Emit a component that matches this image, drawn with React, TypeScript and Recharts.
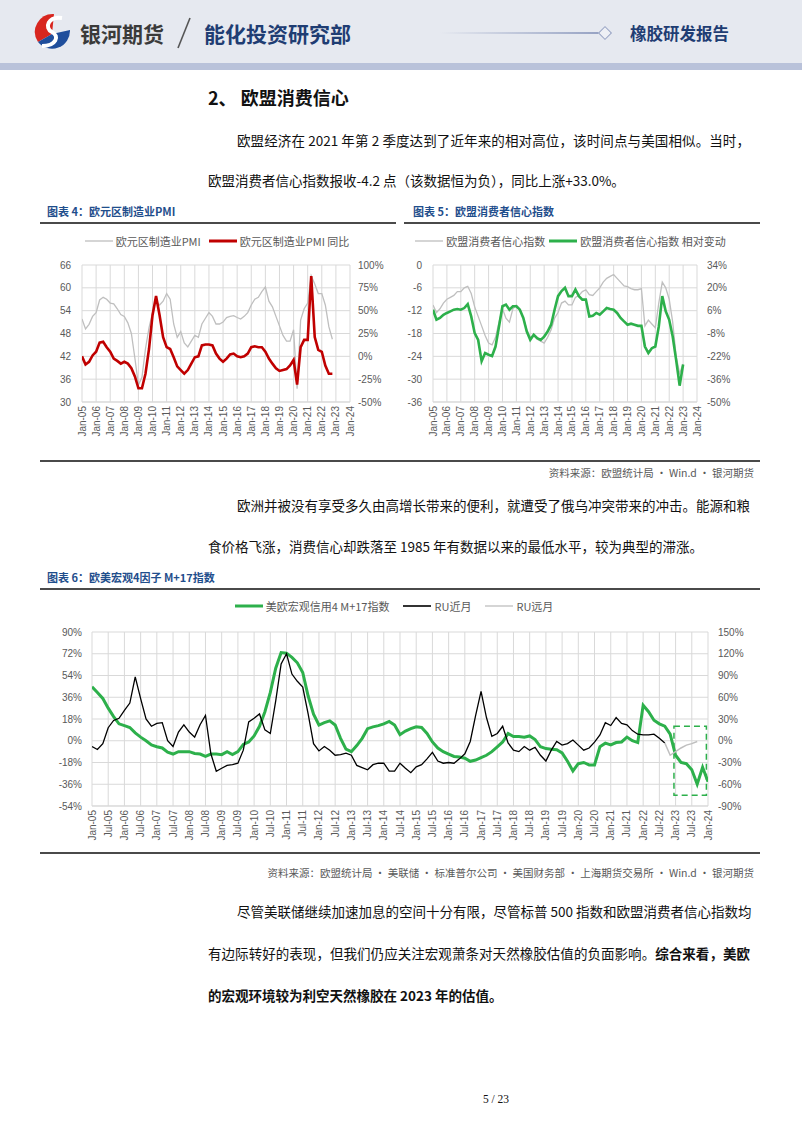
import React from "react";
import { LineChart, Line, XAxis, YAxis, CartesianGrid, Legend, ReferenceArea } from "recharts";

const CJK = '"Noto Sans CJK SC", "Noto Sans", sans-serif';
const TICK_FONT = '"Liberation Sans", Arial, sans-serif';
const NAVY = "#1f3d73";
const TITLE_BLUE = "#1f4e8c";
const GREEN = "#2db04b";

// ---- chart 4: euro area manufacturing PMI (quarterly, from Jan-05)
const yearLabels = ["Jan-05", "Jan-06", "Jan-07", "Jan-08", "Jan-09", "Jan-10", "Jan-11", "Jan-12", "Jan-13", "Jan-14", "Jan-15", "Jan-16", "Jan-17", "Jan-18", "Jan-19", "Jan-20", "Jan-21", "Jan-22", "Jan-23", "Jan-24"];
const pmiLeftTicks = [30, 36, 42, 48, 54, 60, 66];
const pmiRightTicks = [-50, -25, 0, 25, 50, 75, 100];
const pmiIndex = [
  51.8, 49.2, 50.4, 52.5, 53.5, 56.8, 57.5, 57.0, 56.0, 55.8, 54.5, 53.0,
  52.5, 50.8, 48.0, 41.5, 34.5, 36.5, 44.0, 49.5, 53.5, 56.5, 55.5, 56.5,
  58.5, 57.0, 50.5, 47.0, 48.5, 45.5, 44.5, 46.0, 47.5, 47.0, 50.5, 52.0,
  53.5, 52.5, 50.5, 50.5, 51.0, 52.2, 52.5, 52.7, 52.2, 51.8, 52.5, 53.5,
  55.5, 57.0, 57.5, 59.0, 60.2, 56.5, 55.0, 52.5, 50.0, 47.5, 46.0, 46.0,
  49.0, 33.5, 51.5, 54.5, 56.0, 63.2, 61.0, 58.5, 58.5, 55.5, 49.8, 46.5,
];
const pmiYoY = [
  0, -9, -6, 1, 5, 15, 16, 10, 5, -2.5, -5, -8,
  -6, -8, -13, -22, -35, -35, -19, 8, 45, 66, 45, 21,
  10, 8, -1, -11, -15, -19, -15, -8, -1, 0, 12, 13,
  13, 12, 3, -2.5, -6, -2.5, 2, 3, 0, -1, 0, 3,
  10, 11, 10, 10, 5, -2.5, -8, -13, -16, -15, -14, -10,
  -4, -31, 10, 18, 18, 88, 21, 7, 5, -10, -19, -19,
];

// ---- chart 5: EU consumer confidence (quarterly, from Jan-05)
const ccLeftTicks = [-36, -30, -24, -18, -12, -6, 0];
const ccRightTicks = [-50, -36, -22, -8, 6, 20, 34];
const ccIndex = [
  -10.5, -12.5, -11.5, -10, -9, -8.5, -8, -7, -7, -6, -5.6, -7.5,
  -11, -13.5, -16, -18.5, -20.5, -21, -19, -15, -11.5, -14, -15, -11.5,
  -10.5, -11.5, -14, -17, -19, -18.5, -19.5, -20, -20.5, -19, -17, -14,
  -12.5, -10, -9.5, -10.5, -10.5, -8.5, -8, -7, -6.5, -7.8, -8, -7,
  -6, -4.5, -3.5, -3, -2.5, -3.5, -4.5, -5.5, -5.7, -6.2, -6.5, -6.5,
  -6.2, -16, -14.5, -15.5, -16.5, -10, -4.5, -6, -9, -15, -24, -28.5,
  -26,
];
const ccChange = [
  6.6, 0.5, 1.5, 3.5, 4.6, 5.6, 6.6, 7, 6.6, 7.6, 10, 2.5,
  -7.8, -12, -25, -20, -21, -21.8, -16, -3.7, 8.7, 9.7, 6.6, 8.7,
  8.7, 6.6, 1.5, -6.8, -11.9, -8.8, -10.9, -11.9, -9.9, -6.8, -2.6, 6.6,
  14.9, 18, 20, 14.9, 14.9, 19, 14.9, 12.8, 12.8, 2.5, 2.9, 4.6,
  3.5, 5.6, 7.6, 7, 6.6, 4.6, 1.5, -0.6, -2.6, -2, -2.6, -3.3,
  -3.3, -16, -20, -17, -16, -3.7, 14.9, 5.6, 0.4, -9.9, -24.3, -40,
  -27,
];

// ---- chart 6: US/EU macro 4-factor M+17 index vs RU (bimonthly, from Jan-05)
const halfYearLabels = [
  "Jan-05", "Jul-05", "Jan-06", "Jul-06", "Jan-07", "Jul-07", "Jan-08", "Jul-08", "Jan-09", "Jul-09",
  "Jan-10", "Jul-10", "Jan-11", "Jul-11", "Jan-12", "Jul-12", "Jan-13", "Jul-13", "Jan-14", "Jul-14",
  "Jan-15", "Jul-15", "Jan-16", "Jul-16", "Jan-17", "Jul-17", "Jan-18", "Jul-18", "Jan-19", "Jul-19",
  "Jan-20", "Jul-20", "Jan-21", "Jul-21", "Jan-22", "Jul-22", "Jan-23", "Jul-23", "Jan-24",
];
const macroLeftTicks = [-54, -36, -18, 0, 18, 36, 54, 72, 90];
const macroRightTicks = [-90, -60, -30, 0, 30, 60, 90, 120, 150];
const macroIndex = [
  44.6, 40, 35, 27, 20, 14, 12.5, 11, 6.5, 3, 0, -3.5,
  -5, -6, -9.5, -11, -9, -9, -9, -10.5, -11, -13, -11, -11,
  -11.5, -9, -11.5, -9, -3, -1, 4, 12, 24, 40, 60, 73,
  72.5, 69, 64.5, 56.5, 37, 22, 13, 15, 16.5, 13, 2, -7,
  -9, -4, 2, 10, 11.5, 12.5, 14, 16, 13, 5, 8, 10,
  11.6, 11, 6, -1, -6, -9, -11, -13, -13.5, -14.5, -17, -16,
  -14, -12, -9, -5, -1, 6, 3.5, 3.5, 3, 4, 1, -5,
  -6.5, -7, -7.5, -10, -17, -25, -19, -18, -20, -20, -5, -2,
  -3.5, -1.5, -1, 3, 0, -1.5, 29.4, 24, 17, 14, 12, 5.5,
  -12, -18, -19, -24, -36, -22, -34,
];
const ruNear = [
  -8, -12, -4, 18, 28, 31, 42, 52, 88, 58, 30, 20,
  24, 25, 0, -8, 12, 22, 12, 5, 22, 35, -18, -42,
  -38, -34, -33, -31, -13, 26, 31, 37, 15, 10, 55, 106,
  120, 92, 82, 74, 37, -4, -14, -8, -13, -20, -19, -17,
  -20, -34, -37, -40, -33, -31, -31, -42, -42, -31, -38, -44,
  -36, -33, -25, -16, -28, -31, -30, -31, -25, -18, -1, 35,
  68, 32, 6, 10, 20, -3, -13, -15, -8, -13, -9, -20,
  -28, -13, -1, -6, -4, 1, -6, -13, -10, -2, 8, 25,
  21, 32, 24, 22, 14, 9, 8, 8, 9, 3.5, -3,
];
const ruFarStart = 2022 + 4 / 6;
const ruFar = [-3, -20, -15, -10, -6, -4, -1];
const highlightBox = { x1: 2022.95, x2: 2023.95, y1: -75, y2: 20 };

const toPoints = (start: number, step: number, values: number[]) =>
  values.map((v, i) => ({ x: start + i * step, v }));

const pct = (v: number) => `${v}%`;
const tickStyle = { fontSize: 10, fill: "#595959", fontFamily: TICK_FONT };

function VTick(props: any) {
  const { x, y, payload, labels, start, step } = props;
  const idx = Math.round((payload.value - start) / step);
  return (
    <text x={x} y={y} transform={`rotate(-90 ${x} ${y})`} textAnchor="end" dy="0.35em"
      fontSize={10} fill="#595959" fontFamily={TICK_FONT}>
      {labels[idx]}
    </text>
  );
}

type LegendItem = { label: string; color: string; width: number };

function LegendRow({ items, height, pad, gap }: { items: LegendItem[]; height: number; pad: number; gap: number }) {
  return (
    <div style={{ height, boxSizing: "border-box", paddingTop: pad, display: "flex", justifyContent: "center" }}>
      {items.map((it) => (
        <div key={it.label} style={{ display: "flex", alignItems: "center", height: 16, marginRight: gap }}>
          <svg width={28} height={10}><line x1={0} y1={5} x2={28} y2={5} stroke={it.color} strokeWidth={it.width} /></svg>
          <span style={{ marginLeft: 3, fontSize: 11, color: "#595959", fontFamily: CJK, whiteSpace: "pre" }}>{it.label}</span>
        </div>
      ))}
    </div>
  );
}

function PmiChart() {
  const ticks = yearLabels.map((_, i) => 2005 + i);
  const items = [
    { label: "欧元区制造业PMI", color: "#bfbfbf", width: 1.3 },
    { label: "欧元区制造业PMI 同比", color: "#c00000", width: 3 },
  ];
  return (
    <LineChart width={356} height={230} margin={{ top: 0, right: 6, bottom: 16, left: 12 }}>
      <CartesianGrid stroke="#d9d9d9" yAxisId="left" />
      <XAxis type="number" dataKey="x" domain={[2005, 2024]} ticks={ticks} interval={0} allowDataOverflow
        tick={<VTick labels={yearLabels} start={2005} step={1} />} tickLine={false} tickSize={0} tickMargin={4}
        axisLine={{ stroke: "#d9d9d9" }} height={40} />
      <YAxis yAxisId="left" domain={[30, 66]} ticks={pmiLeftTicks} interval={0} width={30}
        axisLine={false} tickLine={false} tickSize={0} tickMargin={11} tick={tickStyle} />
      <YAxis yAxisId="right" orientation="right" domain={[-50, 100]} ticks={pmiRightTicks} interval={0} width={40}
        tickFormatter={pct} axisLine={false} tickLine={false} tickSize={0} tickMargin={8} tick={tickStyle} />
      <Legend verticalAlign="top" content={() => <LegendRow items={items} height={37} pad={5} gap={8} />} />
      <Line yAxisId="left" data={toPoints(2005, 0.25, pmiIndex)} dataKey="v" stroke="#bfbfbf" strokeWidth={1.3} dot={false} isAnimationActive={false} />
      <Line yAxisId="right" data={toPoints(2005, 0.25, pmiYoY)} dataKey="v" stroke="#c00000" strokeWidth={2.6} dot={false} isAnimationActive={false} />
    </LineChart>
  );
}

function ConfidenceChart() {
  const ticks = yearLabels.map((_, i) => 2005 + i);
  const items = [
    { label: "欧盟消费者信心指数", color: "#bfbfbf", width: 1.3 },
    { label: "欧盟消费者信心指数 相对变动", color: GREEN, width: 3 },
  ];
  return (
    <LineChart width={360} height={230} margin={{ top: 0, right: 18, bottom: 16, left: 3 }}>
      <CartesianGrid stroke="#d9d9d9" yAxisId="left" />
      <XAxis type="number" dataKey="x" domain={[2005, 2024]} ticks={ticks} interval={0} allowDataOverflow
        tick={<VTick labels={yearLabels} start={2005} step={1} />} tickLine={false} tickSize={0} tickMargin={4}
        axisLine={{ stroke: "#d9d9d9" }} height={40} />
      <YAxis yAxisId="left" domain={[-36, 0]} ticks={ccLeftTicks} interval={0} width={30}
        axisLine={false} tickLine={false} tickSize={0} tickMargin={11} tick={tickStyle} />
      <YAxis yAxisId="right" orientation="right" domain={[-50, 34]} ticks={ccRightTicks} interval={0} width={45}
        tickFormatter={pct} axisLine={false} tickLine={false} tickSize={0} tickMargin={10} tick={tickStyle} />
      <Legend verticalAlign="top" content={() => <LegendRow items={items} height={37} pad={5} gap={4} />} />
      <Line yAxisId="left" data={toPoints(2005, 0.25, ccIndex)} dataKey="v" stroke="#bfbfbf" strokeWidth={1.3} dot={false} isAnimationActive={false} />
      <Line yAxisId="right" data={toPoints(2005, 0.25, ccChange)} dataKey="v" stroke={GREEN} strokeWidth={2.6} dot={false} isAnimationActive={false} />
    </LineChart>
  );
}

function MacroChart() {
  const ticks = halfYearLabels.map((_, i) => 2005 + i * 0.5);
  const items = [
    { label: "美欧宏观信用4 M+17指数", color: GREEN, width: 3 },
    { label: "RU近月", color: "#000000", width: 1.6 },
    { label: "RU远月", color: "#bfbfbf", width: 1.3 },
  ];
  return (
    <LineChart width={720} height={252} margin={{ top: 0, right: 10, bottom: 0, left: 12 }}>
      <CartesianGrid stroke="#d9d9d9" yAxisId="left" />
      <XAxis type="number" dataKey="x" domain={[2005, 2024]} ticks={ticks} interval={0} allowDataOverflow
        tick={<VTick labels={halfYearLabels} start={2005} step={0.5} />} tickLine={false} tickSize={0} tickMargin={4}
        axisLine={{ stroke: "#d9d9d9" }} height={38} />
      <YAxis yAxisId="left" domain={[-54, 90]} ticks={macroLeftTicks} interval={0} width={40}
        tickFormatter={pct} axisLine={false} tickLine={false} tickSize={0} tickMargin={10} tick={tickStyle} />
      <YAxis yAxisId="right" orientation="right" domain={[-90, 150]} ticks={macroRightTicks} interval={0} width={42}
        tickFormatter={pct} axisLine={false} tickLine={false} tickSize={0} tickMargin={10} tick={tickStyle} />
      <Legend verticalAlign="top" content={() => <LegendRow items={items} height={40} pad={6} gap={14} />} />
      <Line yAxisId="left" data={toPoints(2005, 1 / 6, macroIndex)} dataKey="v" stroke={GREEN} strokeWidth={3} dot={false} isAnimationActive={false} />
      <Line yAxisId="right" data={toPoints(2005, 1 / 6, ruNear)} dataKey="v" stroke="#000000" strokeWidth={1.3} dot={false} isAnimationActive={false} />
      <Line yAxisId="right" data={toPoints(ruFarStart, 1 / 6, ruFar)} dataKey="v" stroke="#bfbfbf" strokeWidth={1.5} dot={false} isAnimationActive={false} />
      <ReferenceArea yAxisId="right" {...highlightBox} fill="none" stroke={GREEN} strokeWidth={1.5}
        strokeDasharray="6 4" ifOverflow="visible" />
    </LineChart>
  );
}

function TextLine({ top, left, width, justify, bold, size = 13.5, children }: any) {
  return (
    <div style={{
      position: "absolute", top: top - 10, left, width, height: 20, lineHeight: "20px",
      fontSize: size, fontFamily: CJK, color: "#111", fontWeight: bold ? 700 : 400, whiteSpace: "nowrap",
      textAlign: justify ? "justify" : "left", textAlignLast: justify ? "justify" : "auto",
    }}>{children}</div>
  );
}

function ChartTitle({ top, left, children }: any) {
  return (
    <div style={{ position: "absolute", top: top - 8, left, height: 16, lineHeight: "16px", fontSize: 11,
      fontWeight: 700, color: TITLE_BLUE, fontFamily: CJK, whiteSpace: "nowrap" }}>{children}</div>
  );
}

function Rule({ top, left, width }: any) {
  return <div style={{ position: "absolute", top, left, width, height: 1.5, background: "#4a4a4a" }} />;
}

function Source({ top, children }: any) {
  return (
    <div style={{ position: "absolute", top: top - 8, right: 802 - 754, height: 16, lineHeight: "16px", fontSize: 10.5,
      color: "#595959", fontFamily: CJK, whiteSpace: "nowrap" }}>{children}</div>
  );
}

function Header() {
  return (
    <div style={{ position: "absolute", left: 0, top: 0, width: 802, height: 70 }}>
      <div style={{ position: "absolute", left: 0, top: 0, width: 802, height: 63, background: "#e6e9f0" }} />
      <div style={{ position: "absolute", left: 0, top: 63, width: 802, height: 7, background: "#b9c2da" }} />
      <svg style={{ position: "absolute", left: 32, top: 12 }} width={40} height={40} viewBox="0 0 40 40">
        <path d="M22 2 A18 18 0 0 0 6 30 L 20 22 Z" fill="#d8261f" />
        <path d="M6 30 A18 18 0 0 0 38 18 L 20 22 Z" fill="#1f4e9c" />
        <path d="M30 6 C 16 4, 12 16, 20 20 C 28 24, 24 34, 10 34" stroke="#fff" strokeWidth={4} fill="none" />
      </svg>
      <div style={{ position: "absolute", left: 80, top: 20, fontSize: 21, fontWeight: 700, color: "#3a3a3a", fontFamily: CJK, lineHeight: "26px" }}>银河期货</div>
      <svg style={{ position: "absolute", left: 174, top: 16 }} width={20} height={34}>
        <line x1={16} y1={2} x2={4} y2={32} stroke="#555" strokeWidth={1.6} />
      </svg>
      <div style={{ position: "absolute", left: 204, top: 20, fontSize: 21, fontWeight: 700, color: NAVY, fontFamily: CJK, lineHeight: "26px" }}>能化投资研究部</div>
      <div style={{ position: "absolute", left: 440, top: 32, width: 160, height: 1.5, background: "linear-gradient(to right, rgba(150,162,195,0), #96a2c3)" }} />
      <div style={{ position: "absolute", left: 600, top: 28, width: 8, height: 8, border: "1.2px solid #96a2c3", transform: "rotate(45deg)", background: "#eef0f5" }} />
      <div style={{ position: "absolute", left: 630, top: 22, fontSize: 16.5, fontWeight: 700, color: NAVY, fontFamily: CJK, lineHeight: "22px" }}>橡胶研发报告</div>
    </div>
  );
}

export default function App() {
  return (
    <div style={{ position: "absolute", left: 0, top: 0, width: 802, height: 1133, background: "#fff", overflow: "hidden" }}>
      <Header />
      <TextLine top={97} left={208} size={18} bold>2、 欧盟消费信心</TextLine>
      <TextLine top={140} left={237} width={513} justify>欧盟经济在 2021 年第 2 季度达到了近年来的相对高位，该时间点与美国相似。当时，</TextLine>
      <TextLine top={180} left={208}>欧盟消费者信心指数报收-4.2 点（该数据恒为负），同比上涨+33.0%。</TextLine>

      <ChartTitle top={211} left={47}>图表 4：欧元区制造业PMI</ChartTitle>
      <ChartTitle top={211} left={413}>图表 5：欧盟消费者信心指数</ChartTitle>
      <Rule top={222} left={40} width={356} />
      <Rule top={222} left={404} width={356} />
      <div style={{ position: "absolute", left: 40, top: 228 }}><PmiChart /></div>
      <div style={{ position: "absolute", left: 400, top: 228 }}><ConfidenceChart /></div>
      <Rule top={460} left={40} width={720} />
      <Source top={473}>资料来源：欧盟统计局 · Win.d · 银河期货</Source>

      <TextLine top={505} left={237} width={513} justify>欧洲并被没有享受多久由高增长带来的便利，就遭受了俄乌冲突带来的冲击。能源和粮</TextLine>
      <TextLine top={546} left={208}>食价格飞涨，消费信心却跌落至 1985 年有数据以来的最低水平，较为典型的滞涨。</TextLine>

      <ChartTitle top={577} left={47}>图表 6：欧美宏观4因子 M+17指数</ChartTitle>
      <Rule top={588} left={40} width={720} />
      <div style={{ position: "absolute", left: 40, top: 592 }}><MacroChart /></div>
      <Rule top={852} left={40} width={720} />
      <Source top={873}>资料来源：欧盟统计局 · 美联储 · 标准普尔公司 · 美国财务部 · 上海期货交易所 · Win.d · 银河期货</Source>

      <TextLine top={911} left={237} width={513} justify>尽管美联储继续加速加息的空间十分有限，尽管标普 500 指数和欧盟消费者信心指数均</TextLine>
      <TextLine top={953} left={208} width={542} justify>
        有边际转好的表现，但我们仍应关注宏观萧条对天然橡胶估值的负面影响。<b>综合来看，美欧</b>
      </TextLine>
      <TextLine top={995} left={208} bold>的宏观环境较为利空天然橡胶在 2023 年的估值。</TextLine>

      <div style={{ position: "absolute", left: 0, width: 802, top: 1093, textAlign: "center", fontFamily: '"Liberation Serif", serif', fontSize: 11.5, color: "#111", paddingLeft: 190, boxSizing: "border-box" }}>5 / 23</div>
    </div>
  );
}
